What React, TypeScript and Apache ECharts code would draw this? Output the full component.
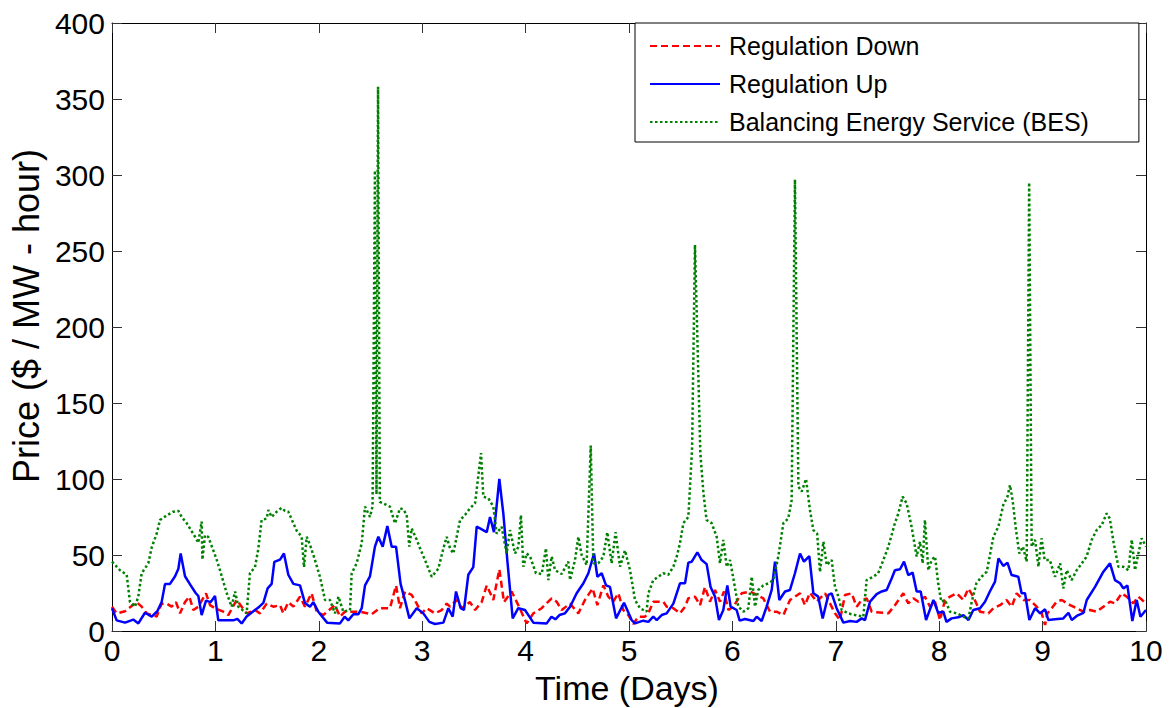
import React, { useEffect, useRef } from "react";
import * as echarts from "echarts";

// Tick values
const xTicks = [0, 1, 2, 3, 4, 5, 6, 7, 8, 9, 10];
const yTicks = [0, 50, 100, 150, 200, 250, 300, 350, 400];

const seriesNames = ["Regulation Down", "Regulation Up", "Balancing Energy Service (BES)"];

// [time in days, price in $/MW-hour]
const regDown: [number, number][] = [
  [0, 16], [0.045, 11.6], [0.126, 13], [0.239, 19], [0.287, 16], [0.335, 11.6], [0.432, 9.5], [0.48, 18],
  [0.529, 18], [0.577, 16], [0.619, 19], [0.658, 11.6], [0.706, 19], [0.748, 22.6], [0.787, 13.8], [0.835, 16],
  [0.909, 24.8], [0.948, 17], [0.996, 15], [1.077, 12.7], [1.125, 10.5], [1.206, 20.4], [1.254, 16], [1.302, 11.6],
  [1.383, 13.8], [1.431, 11.6], [1.496, 18], [1.56, 16], [1.625, 17], [1.657, 11.6], [1.705, 19], [1.754, 16],
  [1.818, 22.6], [1.866, 16], [1.93, 24.8], [1.98, 12.7], [2.044, 10.5], [2.156, 17], [2.205, 9.4], [2.253, 12.7],
  [2.398, 12.7], [2.51, 11], [2.59, 15], [2.688, 15], [2.747, 30], [2.785, 15], [2.834, 26], [2.898, 23.7],
  [2.947, 18], [2.995, 11.6], [3.043, 15], [3.124, 11.6], [3.188, 13.8], [3.237, 18], [3.269, 16], [3.334, 20.4],
  [3.382, 15], [3.462, 19], [3.511, 13.8], [3.575, 19], [3.624, 30], [3.688, 20.4], [3.746, 40.6], [3.791, 19],
  [3.865, 26], [3.929, 17], [4.01, 5], [4.075, 11.6], [4.155, 15], [4.252, 21.5], [4.3, 19.3], [4.349, 13.8],
  [4.429, 18], [4.51, 11.6], [4.574, 20.4], [4.648, 28], [4.694, 17], [4.752, 30], [4.8, 22.6], [4.848, 19.3],
  [4.897, 24.8], [4.945, 13.8], [4.994, 10.5], [5.042, 4.6], [5.09, 9.4], [5.155, 9.4], [5.187, 11.6], [5.235, 19.3],
  [5.332, 19.3], [5.364, 16], [5.429, 15], [5.493, 11.6], [5.542, 16], [5.574, 21.5], [5.638, 22.6], [5.687, 17],
  [5.735, 29], [5.783, 19.3], [5.832, 27], [5.88, 19.3], [5.919, 26], [5.961, 13.8], [6.009, 16], [6.09, 24.8],
  [6.17, 26], [6.235, 23.7], [6.299, 21.5], [6.364, 12.7], [6.428, 12.7], [6.493, 10.5], [6.557, 20.4], [6.654, 24.8],
  [6.702, 17], [6.75, 25.2], [6.815, 19.3], [6.896, 24.8], [6.944, 18.2], [6.992, 11.6], [7.04, 7.2], [7.089, 23.7],
  [7.153, 24.8], [7.202, 16], [7.25, 20.4], [7.299, 21.5], [7.347, 12.7], [7.508, 11.6], [7.572, 17], [7.653, 24.8],
  [7.701, 18.2], [7.75, 21.5], [7.798, 19.3], [7.862, 22.6], [7.911, 16], [7.959, 19.3], [8.008, 7.2], [8.056, 20.4],
  [8.105, 22.6], [8.169, 24.8], [8.233, 20.4], [8.282, 28], [8.33, 22.6], [8.395, 12.7], [8.476, 11.6], [8.524, 15],
  [8.588, 17], [8.652, 20.4], [8.701, 16], [8.749, 24.8], [8.814, 20.4], [8.878, 20.4], [8.943, 16], [8.991, 11.6],
  [9.024, 4], [9.046, 11.6], [9.088, 15], [9.136, 19.3], [9.185, 20.4], [9.266, 17], [9.33, 15], [9.395, 12.7],
  [9.459, 13.8], [9.523, 12.7], [9.588, 16], [9.652, 19.3], [9.7, 18.2], [9.765, 24.8], [9.813, 22.6], [9.878, 18.2],
  [9.926, 22.6], [10, 18.2],
];

const regUp: [number, number][] = [
  [0, 15], [0.045, 7], [0.126, 5.5], [0.206, 7.5], [0.255, 5], [0.319, 12], [0.384, 9.5], [0.438, 13],
  [0.48, 19], [0.513, 31], [0.561, 31], [0.61, 36], [0.642, 41], [0.664, 51], [0.706, 36], [0.761, 30],
  [0.809, 25], [0.835, 23], [0.867, 10.5], [0.909, 20], [0.954, 19], [0.996, 23], [1.028, 7], [1.173, 7],
  [1.212, 8], [1.254, 5], [1.302, 9.5], [1.367, 13], [1.425, 16], [1.464, 18.5], [1.505, 28], [1.544, 31],
  [1.57, 45.5], [1.625, 47], [1.663, 51], [1.705, 37], [1.754, 31], [1.818, 30], [1.866, 18.5], [1.915, 16],
  [1.947, 19], [1.995, 12.7], [2.08, 5.5], [2.205, 5], [2.25, 9.4], [2.285, 7], [2.334, 11], [2.382, 11],
  [2.415, 15], [2.447, 30], [2.495, 36], [2.543, 55.5], [2.576, 62], [2.618, 55.5], [2.663, 69], [2.705, 55.5],
  [2.747, 55.5], [2.791, 31], [2.834, 20], [2.876, 8.3], [2.947, 15], [3.011, 11.6], [3.069, 6], [3.124, 4.6],
  [3.205, 5.5], [3.253, 15], [3.295, 9.4], [3.327, 26], [3.372, 15], [3.404, 13.8], [3.446, 37], [3.494, 42],
  [3.527, 68.6], [3.559, 67.5], [3.624, 65], [3.656, 75], [3.694, 65], [3.746, 100], [3.785, 77], [3.823, 46.7],
  [3.875, 8.3], [3.929, 15], [3.994, 13.8], [4.075, 5.5], [4.204, 5], [4.25, 9.4], [4.288, 7.7], [4.327, 10.5],
  [4.381, 11.6], [4.43, 16], [4.494, 24.8], [4.559, 31.4], [4.607, 38], [4.662, 51], [4.694, 35.7], [4.736, 38],
  [4.778, 30], [4.816, 29], [4.875, 8.3], [4.952, 18.6], [5.026, 7.2], [5.058, 5], [5.138, 6.8], [5.187, 6],
  [5.235, 9.4], [5.268, 7.2], [5.316, 10.5], [5.364, 11.6], [5.429, 18], [5.493, 31.4], [5.542, 31.4], [5.574, 45],
  [5.607, 45.6], [5.661, 51.8], [5.703, 46.7], [5.751, 44], [5.789, 29], [5.832, 22.6], [5.87, 7.2], [5.912, 13.8],
  [5.951, 30], [5.983, 16], [6.041, 13.8], [6.07, 6.8], [6.122, 7.9], [6.203, 6.6], [6.235, 9.4], [6.283, 6.6],
  [6.331, 16], [6.38, 27], [6.412, 45.6], [6.454, 20.4], [6.509, 26], [6.557, 27], [6.605, 38], [6.654, 51],
  [6.692, 45.6], [6.744, 49.3], [6.783, 24.8], [6.83, 22.6], [6.873, 8.3], [6.928, 23.7], [6.96, 24.8], [7.008, 15],
  [7.073, 5.5], [7.138, 6.6], [7.202, 6], [7.25, 8.3], [7.282, 7.2], [7.331, 19.3], [7.395, 24.3], [7.444, 26],
  [7.492, 27], [7.54, 34.6], [7.572, 40], [7.621, 40.6], [7.66, 45.6], [7.701, 36.8], [7.743, 38.4], [7.782, 26],
  [7.821, 26], [7.873, 7.2], [7.944, 20.4], [7.99, 12], [8.04, 12.7], [8.07, 6], [8.12, 8.3], [8.185, 9],
  [8.234, 10.5], [8.283, 7.2], [8.33, 13.8], [8.395, 15], [8.443, 19.3], [8.49, 26], [8.54, 32.5], [8.573, 47.8],
  [8.62, 42.8], [8.66, 45], [8.7, 36.8], [8.765, 35.7], [8.797, 24.8], [8.83, 24.8], [8.872, 7.2], [8.927, 15],
  [8.976, 11.6], [9.024, 14.3], [9.056, 7.2], [9.12, 7.7], [9.2, 8.3], [9.25, 12], [9.282, 7.2], [9.33, 9.9],
  [9.395, 12], [9.427, 20.4], [9.507, 29], [9.588, 39], [9.652, 44.5], [9.7, 33.5], [9.749, 31.4], [9.781, 28],
  [9.82, 30], [9.868, 6.6], [9.91, 20.4], [9.946, 9.4], [10, 13.8],
];

const bes: [number, number][] = [
  [0, 45.6], [0.077, 40], [0.142, 37], [0.174, 19], [0.222, 16], [0.254, 22.6], [0.287, 38], [0.351, 44.5],
  [0.384, 55], [0.432, 64], [0.464, 73], [0.529, 76], [0.593, 78.5], [0.642, 79], [0.674, 75], [0.722, 71],
  [0.803, 62], [0.835, 58], [0.867, 72], [0.874, 47], [0.9, 63], [0.93, 62], [0.98, 53], [1.012, 47],
  [1.044, 40], [1.109, 25], [1.157, 16], [1.19, 26], [1.222, 16], [1.302, 11.6], [1.334, 38], [1.383, 42],
  [1.415, 54], [1.447, 73], [1.496, 74], [1.512, 79.6], [1.544, 75], [1.593, 78.5], [1.641, 81], [1.673, 79],
  [1.705, 78.5], [1.786, 66], [1.834, 62], [1.857, 42], [1.883, 62], [1.915, 56.6], [1.963, 46.7], [2.011, 35.7],
  [2.06, 20.4], [2.108, 20.4], [2.156, 11.6], [2.19, 22.6], [2.237, 12.7], [2.302, 13.8], [2.318, 38], [2.366, 44.5],
  [2.415, 57.7], [2.447, 81.8], [2.495, 75], [2.52, 82], [2.543, 303], [2.558, 90], [2.573, 358], [2.59, 85],
  [2.688, 81.8], [2.737, 70.8], [2.785, 80.7], [2.818, 80], [2.85, 76.3], [2.875, 55.5], [2.898, 67.5], [2.947, 60],
  [2.979, 54.4], [3.027, 46.7], [3.092, 35.7], [3.156, 41], [3.205, 54.4], [3.237, 62], [3.269, 54.4], [3.301, 51],
  [3.366, 73], [3.414, 76.3], [3.462, 80.7], [3.511, 84], [3.569, 117], [3.591, 88.4], [3.64, 87.3], [3.688, 81.8],
  [3.72, 64], [3.768, 68.6], [3.817, 51], [3.849, 66.4], [3.898, 51], [3.93, 55.5], [3.955, 76.3], [3.978, 42.3],
  [4.01, 51], [4.043, 49], [4.1, 38], [4.156, 37.5], [4.197, 54.4], [4.22, 33.5], [4.252, 49], [4.285, 40],
  [4.349, 37.5], [4.413, 45.6], [4.43, 33.5], [4.478, 46.7], [4.51, 62], [4.542, 50], [4.59, 43.4], [4.63, 122],
  [4.655, 44.5], [4.703, 44.5], [4.752, 49], [4.79, 65], [4.832, 44.5], [4.87, 65], [4.913, 42.3], [4.961, 53],
  [5.01, 40], [5.058, 20.4], [5.106, 15], [5.17, 12.7], [5.187, 24.8], [5.235, 33.5], [5.284, 35.7], [5.332, 38],
  [5.38, 37], [5.429, 42.3], [5.462, 49], [5.493, 57.7], [5.526, 71], [5.574, 75], [5.61, 120], [5.638, 254],
  [5.69, 117], [5.72, 90.6], [5.75, 73], [5.799, 71], [5.848, 62], [5.88, 44.5], [5.912, 60], [5.945, 42.3],
  [5.977, 46.7], [6.009, 34.6], [6.057, 16], [6.106, 12.7], [6.154, 15], [6.187, 35.7], [6.219, 16], [6.25, 27],
  [6.299, 30], [6.35, 31.4], [6.396, 33.5], [6.444, 49], [6.493, 71], [6.54, 74], [6.573, 86], [6.605, 297],
  [6.638, 95], [6.67, 91.7], [6.712, 100], [6.75, 79.6], [6.783, 66.4], [6.82, 64], [6.847, 38.8], [6.88, 58.8],
  [6.912, 43.4], [6.96, 46.7], [6.992, 29], [7.025, 22.6], [7.057, 13.8], [7.12, 11.6], [7.186, 10.5], [7.266, 9.4],
  [7.298, 33.5], [7.363, 35.7], [7.41, 38], [7.46, 46.7], [7.508, 55.5], [7.572, 71], [7.605, 77.4], [7.646, 88.4],
  [7.685, 84], [7.733, 68.6], [7.782, 49], [7.814, 58.8], [7.84, 44.5], [7.862, 73], [7.895, 40], [7.927, 46.7],
  [7.96, 49], [7.99, 31.4], [8.02, 19.3], [8.056, 20.4], [8.105, 12.7], [8.17, 11.6], [8.234, 9.4], [8.283, 8.3],
  [8.315, 19.3], [8.36, 31.4], [8.41, 35.7], [8.46, 39], [8.524, 62], [8.572, 68.6], [8.62, 83], [8.66, 88.4],
  [8.685, 96], [8.71, 86], [8.743, 66.4], [8.775, 51], [8.81, 55.5], [8.846, 45.6], [8.87, 295], [8.894, 55.5],
  [8.927, 60], [8.96, 42.3], [8.99, 61], [9.02, 46.7], [9.07, 46.7], [9.12, 35.7], [9.17, 44.5], [9.2, 28],
  [9.233, 40], [9.28, 33.5], [9.33, 40], [9.38, 44.5], [9.426, 49], [9.475, 60], [9.523, 66.4], [9.572, 69.7],
  [9.62, 77.4], [9.65, 74], [9.685, 58.8], [9.733, 42.3], [9.78, 42.3], [9.83, 40], [9.862, 60], [9.894, 40],
  [9.926, 51], [9.958, 61], [10, 55.5],
];

const FONT = "'Liberation Sans', Arial, Helvetica, sans-serif";

export default function App() {
  const ref = useRef<HTMLDivElement>(null);

  useEffect(() => {
    document.body.style.margin = "0";
    if (!ref.current) return;
    const chart = echarts.init(ref.current, undefined, { renderer: "svg" });

    const baseX = {
      type: "value" as const,
      min: xTicks[0],
      max: xTicks[xTicks.length - 1],
      interval: 1,
      splitLine: { show: false },
      axisLine: { show: true, onZero: false, lineStyle: { color: "#000", width: 1 } },
      axisTick: { show: true, inside: true, length: 10, lineStyle: { color: "#333", width: 1 } },
    };
    const baseY = {
      type: "value" as const,
      min: yTicks[0],
      max: yTicks[yTicks.length - 1],
      interval: 50,
      splitLine: { show: false },
      axisLine: { show: true, onZero: false, lineStyle: { color: "#000", width: 1 } },
      axisTick: { show: true, inside: true, length: 10, lineStyle: { color: "#333", width: 1 } },
    };

    chart.setOption({
      animation: false,
      backgroundColor: "#fff",
      grid: { left: 112, right: 26, top: 23, bottom: 77, containLabel: false },
      xAxis: [
        {
          ...baseX,
          position: "bottom",
          axisLabel: { show: true, margin: 4, color: "#000", fontSize: 30, fontFamily: FONT },
        },
        { ...baseX, position: "top", axisLabel: { show: false } },
      ],
      yAxis: [
        {
          ...baseY,
          position: "left",
          axisLabel: { show: true, margin: 7, color: "#000", fontSize: 30, fontFamily: FONT },
        },
        { ...baseY, position: "right", axisLabel: { show: false } },
      ],
      legend: {
        show: true,
        orient: "vertical",
        left: 635,
        top: 23,
        backgroundColor: "#fff",
        borderColor: "#000",
        borderWidth: 1,
        padding: [10, 50, 7, 14],
        itemGap: 12,
        itemWidth: 70,
        itemHeight: 14,
        selectedMode: false,
        itemStyle: { opacity: 0 },
        textStyle: {
          color: "#000",
          fontSize: 25,
          fontFamily: FONT,
          lineHeight: 26,
          padding: [0, 0, 0, 4],
        },
        data: seriesNames,
      },
      graphic: [
        {
          type: "text",
          x: 26,
          y: 316,
          rotation: Math.PI / 2,
          style: {
            text: "Price ($ / MW - hour)",
            fontSize: 36,
            fontFamily: FONT,
            fill: "#000",
            align: "center",
            verticalAlign: "middle",
          },
        },
        {
          type: "text",
          x: 627,
          y: 688,
          style: {
            text: "Time (Days)",
            fontSize: 34,
            fontFamily: FONT,
            fill: "#000",
            align: "center",
            verticalAlign: "middle",
          },
        },
      ],
      series: [
        {
          name: seriesNames[0],
          type: "line",
          data: regDown,
          symbol: "none",
          lineStyle: { color: "#ff0000", width: 2.5, type: [7, 4] },
          itemStyle: { color: "#ff0000" },
        },
        {
          name: seriesNames[1],
          type: "line",
          data: regUp,
          symbol: "none",
          lineStyle: { color: "#0000ff", width: 2.5, type: "solid" },
          itemStyle: { color: "#0000ff" },
        },
        {
          name: seriesNames[2],
          type: "line",
          data: bes,
          symbol: "none",
          lineStyle: { color: "#008000", width: 2.5, type: [2.5, 2.5] },
          itemStyle: { color: "#008000" },
        },
      ],
    });

    return () => chart.dispose();
  }, []);

  return <div ref={ref} style={{ width: 1172, height: 708 }} />;
}
